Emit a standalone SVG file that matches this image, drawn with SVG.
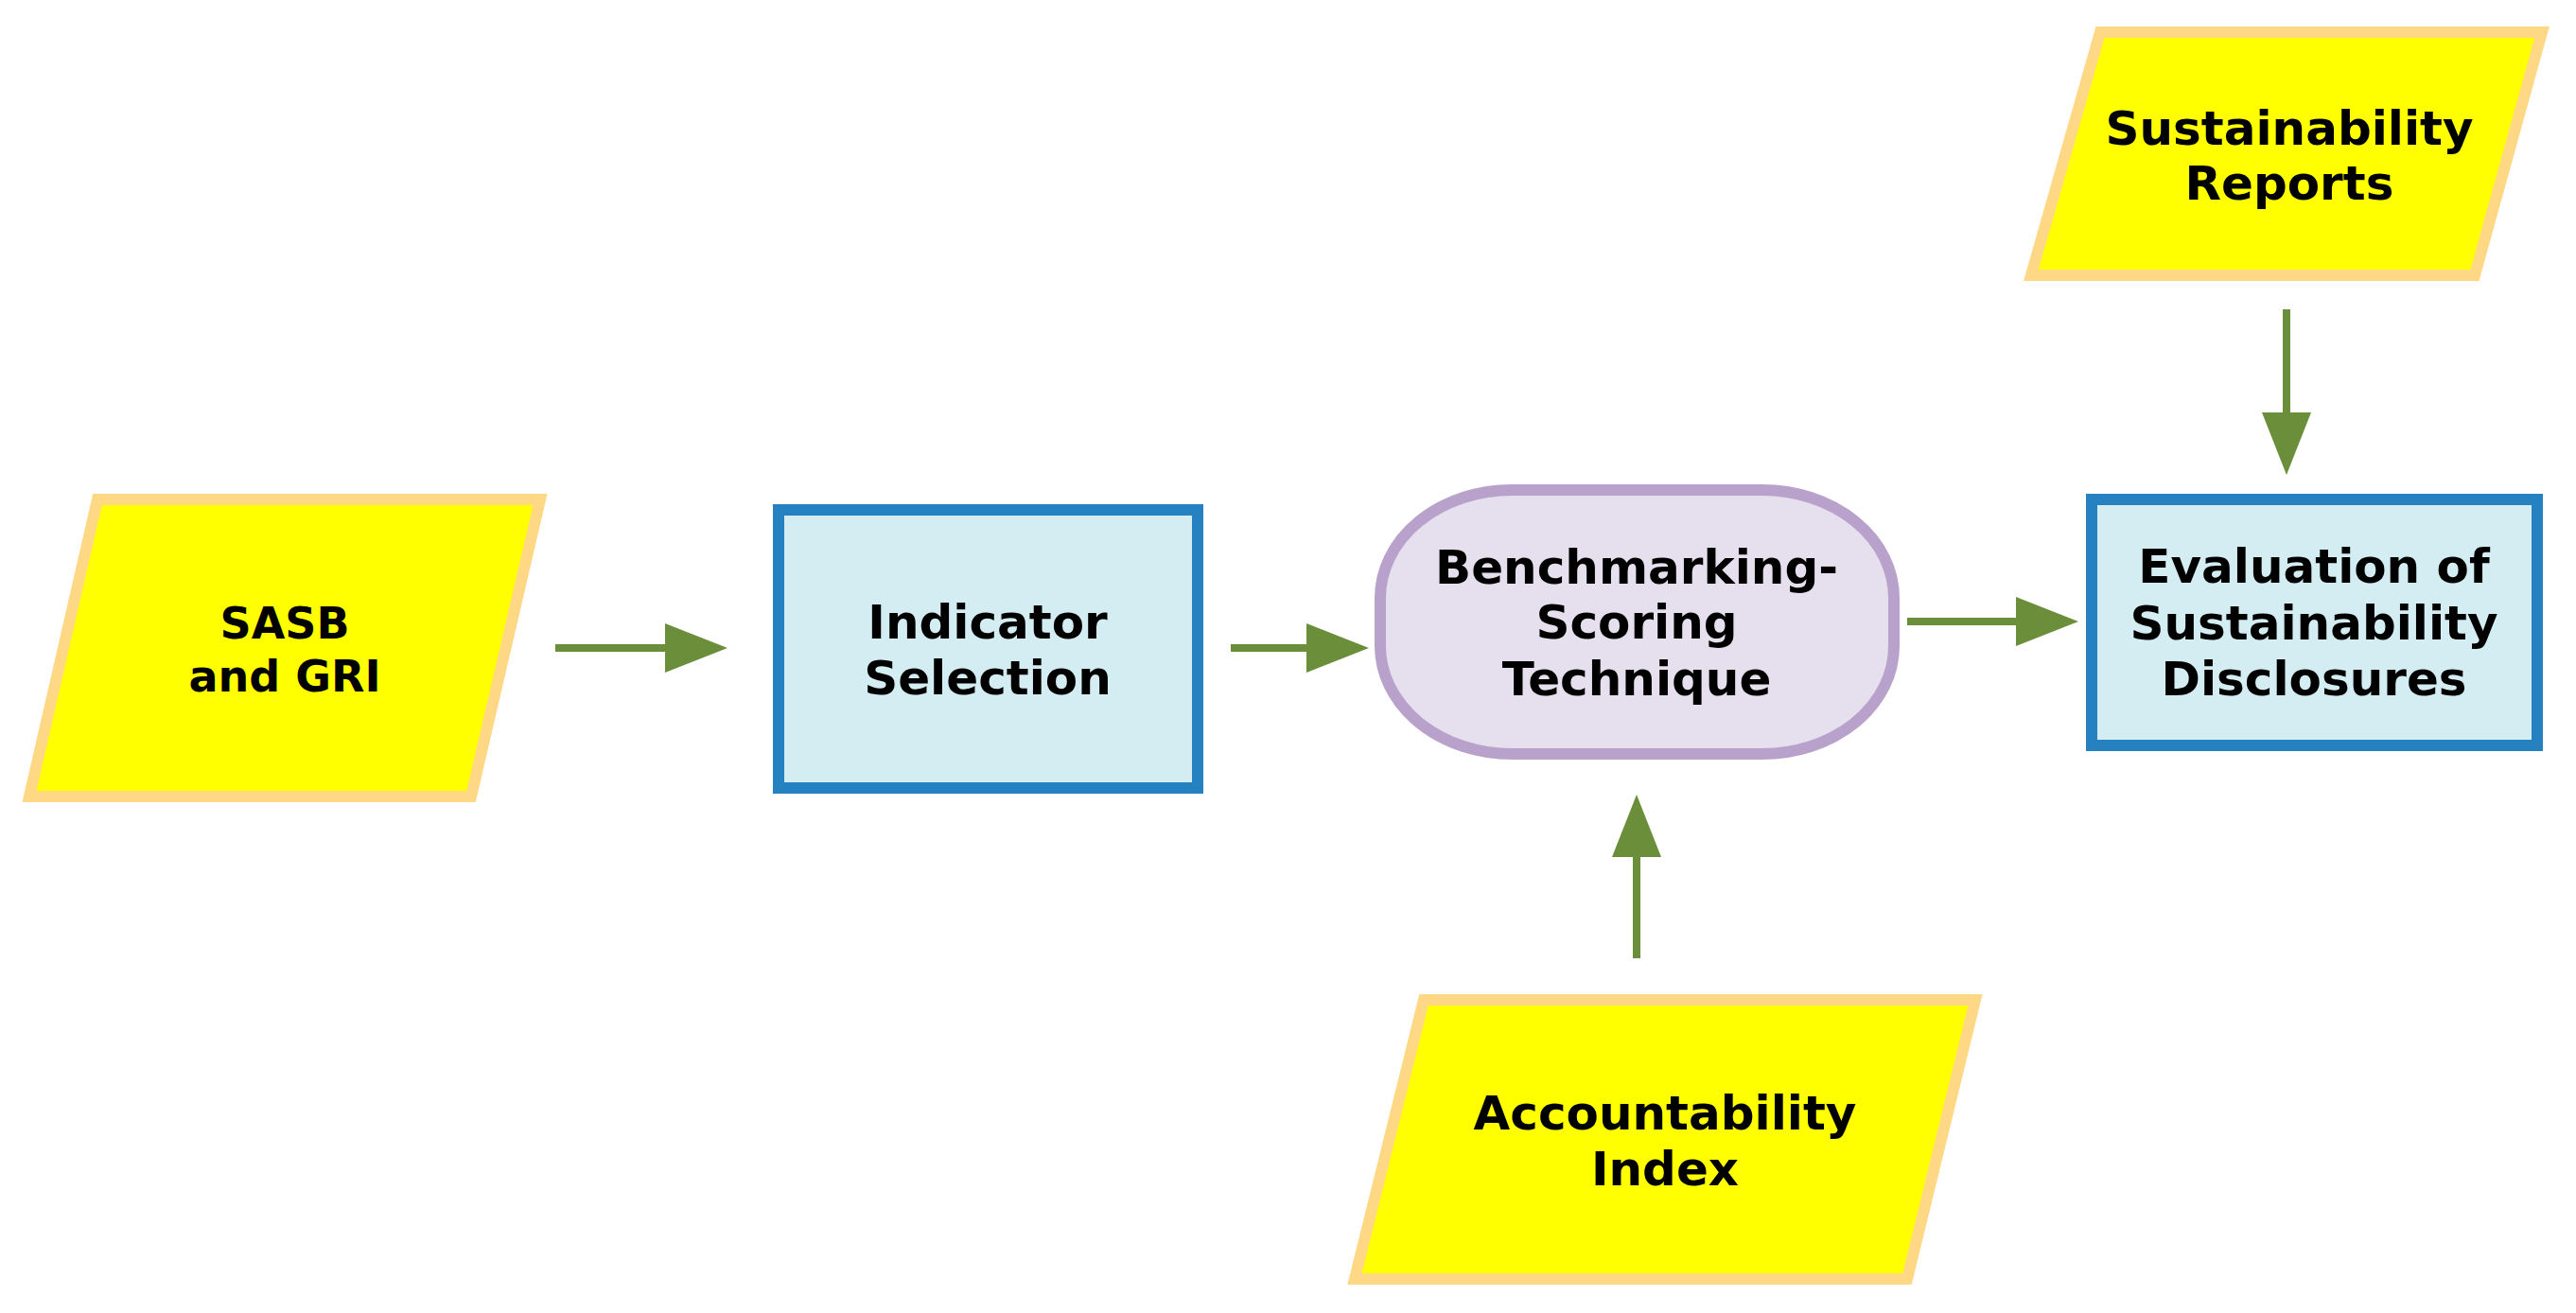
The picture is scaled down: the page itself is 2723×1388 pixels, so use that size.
<svg xmlns="http://www.w3.org/2000/svg" width="2723" height="1388" viewBox="0 0 2723 1388">
<style>
.io{fill:#FFFF00;stroke:#FFD886;stroke-width:12;stroke-linejoin:miter}
.proc{fill:#D4EDF2;stroke:#2581C0;stroke-width:12}
.term{fill:#E6DFEE;stroke:#B8A2CB;stroke-width:12}
.lbl{font-family:"DejaVu Sans","Liberation Sans",sans-serif;font-weight:bold;font-size:50px;fill:#000;text-anchor:middle}
.conn{stroke:#6B8E3B;stroke-width:8;fill:none}
</style>
<defs>
<marker id="ah" viewBox="0 -26 66 52" refX="2" refY="0" markerWidth="66" markerHeight="52" markerUnits="userSpaceOnUse" orient="auto">
<path d="M0,-26 L66,0 L0,26 Z" fill="#6B8E3B"/>
</marker>
</defs>
<g id="connectors">
<line class="conn" x1="587" y1="685" x2="705" y2="685" marker-end="url(#ah)"/>
<line class="conn" x1="1301" y1="685" x2="1383" y2="685" marker-end="url(#ah)"/>
<line class="conn" x1="2016" y1="657" x2="2133" y2="657" marker-end="url(#ah)"/>
<line class="conn" x1="2417" y1="327" x2="2417" y2="438" marker-end="url(#ah)"/>
<line class="conn" x1="1730" y1="1013" x2="1730" y2="904" marker-end="url(#ah)"/>
</g>
<g id="sasb">
<path class="io" d="M103,528 L571,528 L498,842 L31,842 Z"/>
<text class="lbl" x="301" y="675" style="font-size:46px">SASB</text>
<text class="lbl" x="301" y="731" style="font-size:46px">and GRI</text>
</g>
<g id="indicator">
<rect class="proc" x="823" y="539" width="443" height="294"/>
<text class="lbl" x="1044" y="675">Indicator</text>
<text class="lbl" x="1044" y="734">Selection</text>
</g>
<g id="benchmarking">
<rect class="term" x="1459" y="518" width="543" height="279" rx="139" ry="114"/>
<text class="lbl" x="1730" y="617">Benchmarking-</text>
<text class="lbl" x="1730" y="675">Scoring</text>
<text class="lbl" x="1730" y="735">Technique</text>
</g>
<g id="evaluation">
<rect class="proc" x="2211" y="528" width="471" height="260"/>
<text class="lbl" x="2446" y="616">Evaluation of</text>
<text class="lbl" x="2446" y="676">Sustainability</text>
<text class="lbl" x="2446" y="735">Disclosures</text>
</g>
<g id="reports">
<path class="io" d="M2220,34 L2687,34 L2616,291 L2147,291 Z"/>
<text class="lbl" x="2420" y="153">Sustainability</text>
<text class="lbl" x="2420" y="211">Reports</text>
</g>
<g id="accountability">
<path class="io" d="M1505,1057 L2088,1057 L2016,1352 L1432,1352 Z"/>
<text class="lbl" x="1760" y="1194">Accountability</text>
<text class="lbl" x="1760" y="1253">Index</text>
</g>
</svg>
